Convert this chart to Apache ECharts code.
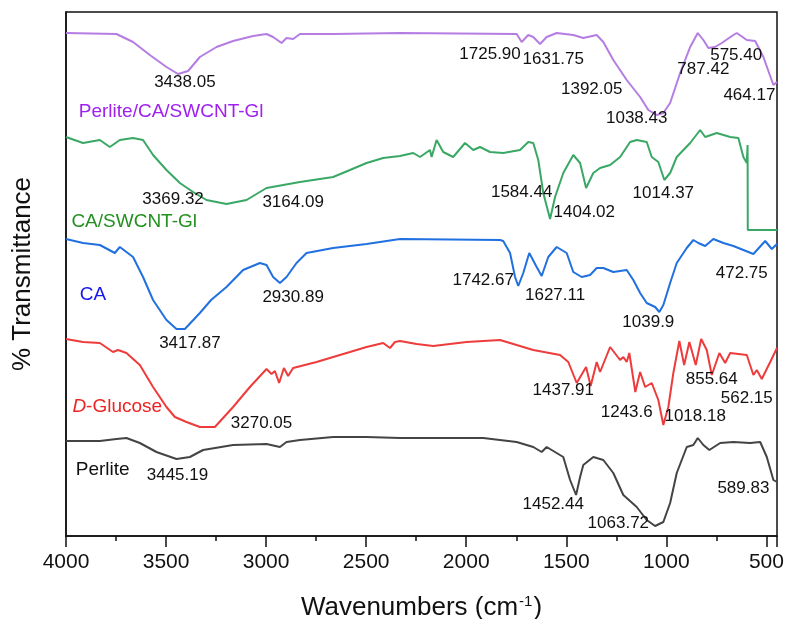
<!DOCTYPE html>
<html lang="en">
<head>
    <meta charset="UTF-8">
    <title>FTIR</title>
    <script src="https://cdn.jsdelivr.net/npm/echarts@6/dist/echarts.min.js"></script>
</head>
<body style="margin:0">
    <div id='main' style='width:785px;height:619px;'></div>

    <script>
    // spectra: [wavenumber, offset transmittance (a.u.)]
    var pcsData = [
        [4000,503],[3748,502],[3665,494],[3581,481],[3498,469],[3440,462],[3390,465],[3331,479],
        [3248,489],[3165,495],[3065,500],[2998,502],[2965,499],[2923,493],[2898,498],[2865,497],
        [2831,502],[2665,502],[2331,503],[1748,502],[1723,494],[1690,501],[1665,499],[1631,492],
        [1598,499],[1548,503],[1465,501],[1415,498],[1348,501],[1315,494],[1265,476],[1198,456],
        [1131,439],[1090,426],[1048,421],[1015,423],[981,433],[931,463],[881,489],[843,503],
        [815,496],[790,488],[757,489],[723,493],[665,501],[648,503],[598,496],[556,495],[515,479],
        [465,451],[447,454]
    ];
    var csgData = [
        [4000,399],[3915,393],[3831,396],[3781,389],[3731,396],[3665,398],[3615,396],[3565,381],
        [3498,366],[3431,353],[3365,344],[3298,336],[3198,332],[3098,336],[2998,348],[2831,354],
        [2665,359],[2581,366],[2498,373],[2415,378],[2331,380],[2265,383],[2231,379],[2181,386],
        [2173,379],[2148,396],[2115,384],[2065,379],[2006,393],[1965,386],[1931,389],[1881,384],
        [1815,383],[1731,386],[1690,394],[1665,393],[1640,376],[1615,343],[1581,317],[1556,339],
        [1515,363],[1465,381],[1431,373],[1401,348],[1365,363],[1331,368],[1281,371],[1231,379],
        [1181,394],[1148,396],[1098,394],[1073,379],[1040,374],[1010,356],[981,363],[948,379],
        [881,393],[831,406],[806,399],[748,403],[681,399],[640,398],[615,379],[598,373],[594,391],
        [593,306],[447,306]
    ];
    var caData = [
        [4000,297],[3915,293],[3831,291],[3756,283],[3731,289],[3665,279],[3615,259],[3565,236],
        [3498,216],[3448,207],[3406,207],[3331,223],[3275,236],[3198,249],[3115,266],[3031,273],
        [2998,271],[2965,259],[2931,253],[2898,259],[2848,273],[2798,283],[2665,288],[2498,292],
        [2331,297],[1831,296],[1815,295],[1781,283],[1756,259],[1740,250],[1715,263],[1685,283],
        [1648,269],[1623,260],[1590,279],[1548,289],[1498,283],[1465,264],[1423,259],[1381,261],
        [1348,268],[1315,268],[1265,264],[1198,266],[1165,256],[1131,243],[1098,233],[1056,229],
        [1035,224],[1015,231],[981,253],[948,273],[898,288],[865,296],[840,293],[806,290],
        [765,297],[715,293],[665,290],[615,286],[565,282],[506,295],[473,287],[447,292]
    ];
    var glucoseData = [
        [4000,197],[3915,194],[3831,193],[3765,184],[3740,186],[3698,183],[3631,171],[3565,149],
        [3498,129],[3456,119],[3398,114],[3331,109],[3256,109],[3165,129],[3081,149],[2998,167],
        [2973,162],[2956,165],[2935,153],[2911,168],[2890,160],[2865,168],[2748,174],[2665,179],
        [2581,184],[2498,189],[2415,193],[2381,188],[2356,194],[2331,195],[2248,192],[2165,190],
        [1998,194],[1831,196],[1715,189],[1665,186],[1531,181],[1490,174],[1448,153],[1401,169],
        [1378,150],[1348,174],[1331,164],[1281,189],[1231,176],[1215,179],[1198,174],[1185,183],
        [1155,144],[1131,164],[1106,149],[1073,153],[1040,136],[1015,111],[990,129],[965,163],
        [935,195],[911,171],[885,194],[853,171],[826,197],[798,186],[773,161],[735,183],
        [706,173],[681,183],[598,181],[565,161],[548,166],[523,157],[481,174],[447,188]
    ];
    var perliteData = [
        [4000,95],[3831,95],[3748,97],[3698,98],[3631,93],[3548,84],[3448,77],[3381,79],
        [3315,86],[3165,91],[2998,92],[2931,89],[2898,94],[2831,96],[2665,99],[2498,99],
        [2331,98],[1915,98],[1748,94],[1665,89],[1623,84],[1598,89],[1515,79],[1481,56],
        [1451,41],[1431,59],[1415,71],[1365,79],[1315,76],[1265,63],[1215,41],[1148,29],
        [1098,16],[1056,10],[1015,14],[981,33],[948,63],[898,89],[865,91],[843,98],
        [815,91],[785,86],[731,93],[665,94],[581,93],[531,94],[498,79],[465,56],[447,54]
    ];

    // peak labels: [wavenumber, offset, text]
    var pcsPeaks = [[3406,454,'3438.05'],[1881,482,'1725.90'],[1565,477,'1631.75'],[1373,447,'1392.05'],
        [1148,418,'1038.43'],[815,467,'787.42'],[651,481,'575.40'],[585,441,'464.17']];
    var csgPeaks = [[3465,337,'3369.32'],[2865,334,'3164.09'],[1723,344,'1584.44'],[1410,324,'1404.02'],
        [1015,343,'1014.37']];
    var caPeaks = [[3381,193,'3417.87'],[2865,239,'2930.89'],[1915,256,'1742.67'],[1556,241,'1627.11'],
        [1090,214,'1039.9'],[623,263,'472.75']];
    var glucosePeaks = [[3023,113,'3270.05'],[1515,146,'1437.91'],[1198,124,'1243.6'],[856,120,'1018.18'],
        [773,157,'855.64'],[598,138,'562.15']];
    var perlitePeaks = [[3443,61,'3445.19'],[1565,32,'1452.44'],[1240,13,'1063.72'],[615,48,'589.83']];

    // sample names: [wavenumber, offset, text]
    var sampleNames = [[3936,424,'Perlite/CA/SWCNT-Gl'],[3973,314,'CA/SWCNT-Gl'],[3931,241,'CA'],
        [3968,129,'{i|D}-Glucose'],[3951,66,'Perlite']];
    var nameColors = ['#a020f0','#23901f','#1515ee','#ee2222','#111111'];

    var lineColors = ['#b57de2','#3aa865','#2070e0','#ee3b3b','#444444'];
    var spectra = [pcsData, csgData, caData, glucoseData, perliteData];
    var peaks = [pcsPeaks, csgPeaks, caPeaks, glucosePeaks, perlitePeaks];

    var font = 'Liberation Sans, Arial, sans-serif';
    var myChart = echarts.init(document.getElementById('main'));
    var series = [];
    spectra.forEach(function(d, i){
        series.push({
            type:'line',
            data:d,
            showSymbol:false,
            symbol:'none',
            lineStyle:{width:2,color:lineColors[i]},
            z:3
        });
        series.push({
            type:'scatter',
            data:peaks[i],
            symbolSize:0,
            itemStyle:{color:'#000',opacity:1},
            label:{
                show:true,
                position:'inside',
                formatter:function(p){ return p.value[2]; },
                color:'#111',
                opacity:1,
                textBorderWidth:0,
                fontSize:17,
                fontFamily:font
            },
            z:4
        });
    });
    // sample names, each in its own colour
    series.push({
        type:'scatter',
        symbolSize:0,
        itemStyle:{opacity:1},
        label:{
            show:true,
            position:'right',
            distance:0,
            formatter:function(p){ return p.value[2]; },
            opacity:1,
            textBorderWidth:0,
            fontSize:19,
            fontFamily:font
        },
        data:sampleNames.map(function(n, i){
            return {
                value:n,
                label:{
                    color:nameColors[i],
                    rich:{ i:{fontStyle:'italic',color:nameColors[i],fontSize:19,fontFamily:font} }
                }
            };
        }),
        z:4
    });

    var option = {
        animation:false,
        grid:{
            left:66, right:8, top:12, bottom:83,
            containLabel:false,
            outerBoundsMode:'none',
            show:true, borderColor:'#111', borderWidth:1.5
        },
        xAxis:{
            type:'value',
            inverse:true,
            min:447,
            max:4000,
            minInterval:500,
            maxInterval:500,
            splitNumber:7,
            name:'{a|Wavenumbers (cm}{s|-1}{a|)}',
            nameLocation:'middle',
            nameGap:58,
            nameTextStyle:{
                rich:{
                    a:{fontSize:26,fontFamily:font,color:'#111'},
                    s:{fontSize:15,fontFamily:font,color:'#111',verticalAlign:'top',padding:[0,1,12,1]}
                }
            },
            axisLine:{lineStyle:{color:'#111',width:1.5}},
            axisTick:{length:11,lineStyle:{color:'#111',width:1.5}},
            minorTick:{show:true,splitNumber:2,length:5,lineStyle:{color:'#111',width:1.5}},
            splitLine:{show:false},
            axisLabel:{fontSize:21,fontFamily:font,color:'#111',margin:16,showMinLabel:false,
                formatter:function(v){ return String(v); }}
        },
        yAxis:{
            type:'value',
            min:0,
            max:524,
            name:'% Transmittance',
            nameLocation:'middle',
            nameGap:30,
            nameTextStyle:{fontSize:26,fontFamily:font,color:'#111'},
            axisLine:{show:true,lineStyle:{color:'#111',width:1.5}},
            axisTick:{show:false},
            axisLabel:{show:false},
            splitLine:{show:false}
        },
        series:series
    };
    myChart.setOption(option);
    </script>
</body>
</html>
